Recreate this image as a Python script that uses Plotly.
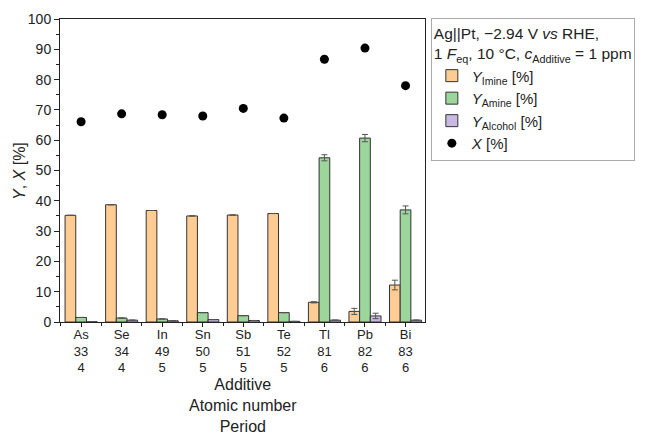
import plotly.graph_objects as go

additives = ["As", "Se", "In", "Sn", "Sb", "Te", "Tl", "Pb", "Bi"]
atomic_numbers = [33, 34, 49, 50, 51, 52, 81, 82, 83]
periods = [4, 4, 5, 5, 5, 5, 6, 6, 6]

y_imine = [35.2, 38.7, 36.8, 35.0, 35.3, 35.8, 6.5, 3.5, 12.2]
y_imine_err = [0, 0, 0, 0, 0, 0, 0.2, 1.0, 1.6]
y_amine = [1.5, 1.3, 1.0, 3.1, 2.1, 3.1, 54.2, 60.7, 37.0]
y_amine_err = [0, 0, 0, 0, 0, 0, 1.0, 1.2, 1.3]
y_alcohol = [0.1, 0.6, 0.4, 0.8, 0.5, 0.2, 0.6, 2.0, 0.6]
y_alcohol_err = [0, 0, 0, 0, 0, 0, 0, 0.9, 0]
x_conv = [66.1, 68.7, 68.4, 68.0, 70.5, 67.3, 86.7, 90.4, 78.0]

pos = list(range(len(additives)))
ticktext = [f"{a}<br>{n}<br>{p}" for a, n, p in zip(additives, atomic_numbers, periods)]

fig = go.Figure()
line = dict(color="#333333", width=1)
err_style = dict(type="data", color="#555555", thickness=1, width=3)

fig.add_trace(go.Bar(x=pos, y=y_imine, name="<i>Y</i><sub>Imine</sub> [%]",
                     marker=dict(color="#FFCC93", line=line),
                     error_y=dict(array=y_imine_err, **err_style)))
fig.add_trace(go.Bar(x=pos, y=y_amine, name="<i>Y</i><sub>Amine</sub> [%]",
                     marker=dict(color="#9CD69A", line=line),
                     error_y=dict(array=y_amine_err, **err_style)))
fig.add_trace(go.Bar(x=pos, y=y_alcohol, name="<i>Y</i><sub>Alcohol</sub> [%]",
                     marker=dict(color="#C9B8E0", line=line),
                     error_y=dict(array=y_alcohol_err, **err_style)))
fig.add_trace(go.Scatter(x=pos, y=x_conv, mode="markers", name="<i>X</i> [%]",
                         marker=dict(color="black", size=9)))

fig.update_layout(
    width=647, height=437,
    margin=dict(l=60, r=209, t=19, b=115),
    paper_bgcolor="white", plot_bgcolor="white",
    font=dict(family="Liberation Sans, Arial, sans-serif", size=14, color="#222222"),
    barmode="group", bargap=0.21, bargroupgap=0,
    showlegend=True,
    legend=dict(
        x=1.016, y=1.003, xanchor="left", yanchor="top",
        bordercolor="#aaaaaa", borderwidth=1,
        font=dict(size=15), tracegroupgap=0, itemsizing="trace",
        title=dict(text="Ag||Pt, −2.94 V <i>vs</i> RHE,<br>1 <i>F</i><sub>eq</sub>, 10 °C, <i>c</i><sub>Additive</sub> = 1 ppm",
                   font=dict(size=15.5)),
    ),
    annotations=[
        dict(text="Additive<br>Atomic number<br>Period", xref="paper", yref="paper",
             x=0.5, y=-0.277, xanchor="center", yanchor="middle", showarrow=False,
             font=dict(size=16)),
        dict(text="<i>Y</i>, <i>X</i> [%]", xref="paper", yref="paper",
             x=-0.111, y=0.5, xanchor="center", yanchor="middle", showarrow=False,
             textangle=-90, font=dict(size=16)),
    ],
)
fig.update_xaxes(
    range=[-0.52, 8.48], tickvals=pos, ticktext=ticktext, tickfont=dict(size=13),
    ticks="outside", ticklen=4, tickcolor="#222222", ticklabelstandoff=-4,
    minor=dict(tickvals=[i + 0.5 for i in range(-1, 9)], ticks="outside", ticklen=3, tickcolor="#222222"),
    showline=True, linecolor="#222222", linewidth=1, mirror=True,
    showgrid=False, zeroline=False, automargin=False,
)
fig.update_yaxes(
    range=[0, 100], dtick=10, ticks="outside", ticklen=5, tickcolor="#222222",
    minor=dict(dtick=5, ticks="outside", ticklen=3, tickcolor="#222222"),
    showline=True, linecolor="#222222", linewidth=1, mirror=True,
    showgrid=False, zeroline=False, automargin=False,
)

fig.write_html("out.html")
